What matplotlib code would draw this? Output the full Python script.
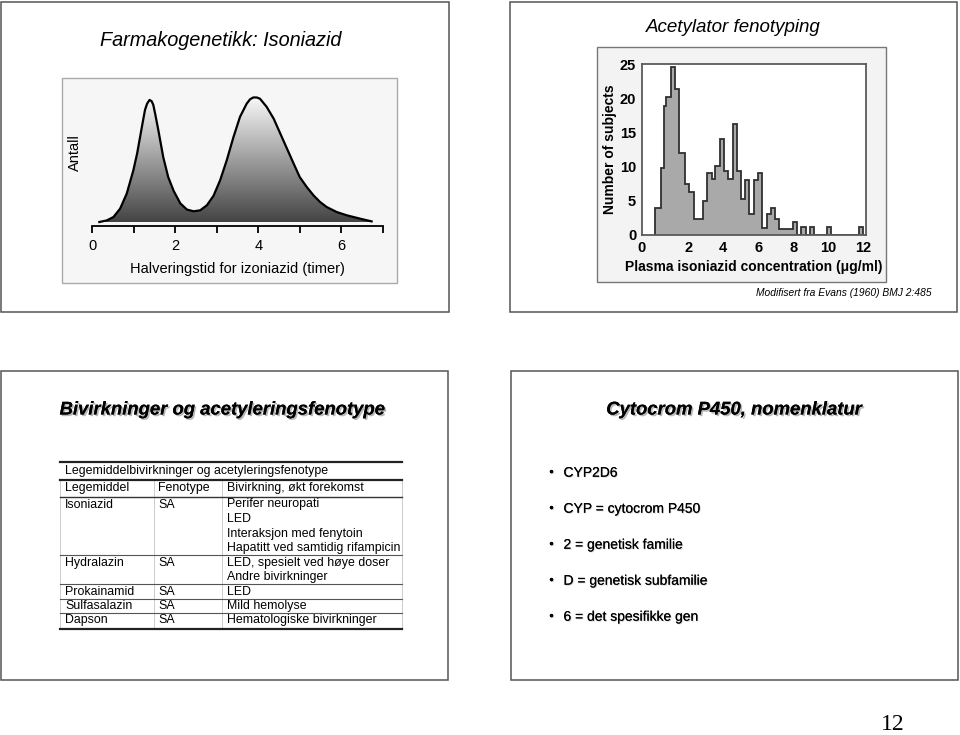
import numpy as np
import matplotlib.pyplot as plt
from matplotlib.patches import Rectangle, Polygon
from matplotlib.lines import Line2D
from matplotlib.colors import LinearSegmentedColormap
import matplotlib.patheffects as pe

plt.rcParams["font.family"] = ["Liberation Sans", "DejaVu Sans"]

W, H = 960, 735

# --- slide 1: half-life curve ---
curve_x = [0.17, 0.35, 0.51, 0.67, 0.83, 0.99, 1.08, 1.15, 1.22, 1.27, 1.32, 1.38, 1.43,
           1.47, 1.52, 1.59, 1.71, 1.83, 1.96, 2.12, 2.28, 2.44, 2.60, 2.76, 2.92, 3.08,
           3.24, 3.40, 3.56, 3.72, 3.80, 3.88, 3.96, 4.04, 4.20, 4.37, 4.53, 4.69, 4.85,
           5.00, 5.17, 5.33, 5.49, 5.65, 5.89, 6.13, 6.45, 6.73]
curve_y = [0, 1.3, 4, 10.7, 22.8, 41.6, 55, 68, 81, 90, 95, 98, 97,
           94, 86, 74, 52, 36, 25, 15, 10, 8.6, 9.4, 13.4, 21, 33.5,
           49.6, 68, 84.5, 95, 98.5, 100, 100, 99, 92.5, 83, 71, 59, 47,
           36, 28, 21.4, 16, 12, 8, 5.4, 2.7, 0.5]
curve_ticks = [0, 1, 2, 3, 4, 5, 6, 7]
curve_ticklabels = ["0", "", "2", "", "4", "", "6", ""]

# --- slide 2: histogram ---
hist_edges = [0.1, 0.43, 0.63, 0.75, 1.0, 1.26, 1.5, 1.85, 2.06, 2.35, 2.86, 3.1, 3.34,
              3.53, 3.79, 4.07, 4.29, 4.53, 4.8, 5.0, 5.24, 5.48, 5.74, 5.96, 6.22, 6.51,
              6.7, 6.95, 7.2, 7.95, 8.22, 8.46, 8.7, 8.95, 9.18, 9.9, 10.16, 11.73, 11.99]
hist_counts = [4, 9.8, 18.9, 20.2, 24.6, 21.4, 12, 7.4, 6.3, 2.4, 4.9, 9, 8.2,
               10.1, 14, 9.3, 8.2, 16.2, 9.3, 5.2, 8, 3.1, 8, 9, 1, 3,
               4, 2.4, 0.9, 1.9, 0, 1.1, 0, 1.1, 0, 1.1, 0, 1.2]
hist_xticks = [0, 2, 4, 6, 8, 10, 12]
hist_yticks = [0, 5, 10, 15, 20, 25]

# --- slide 3: table ---
table_title = "Legemiddelbivirkninger og acetyleringsfenotype"
table_header = ["Legemiddel", "Fenotype", "Bivirkning, økt forekomst"]
table_rows = [
    ["Isoniazid", "SA", ["Perifer neuropati", "LED", "Interaksjon med fenytoin",
                         "Hapatitt ved samtidig rifampicin"]],
    ["Hydralazin", "SA", ["LED, spesielt ved høye doser", "Andre bivirkninger"]],
    ["Prokainamid", "SA", ["LED"]],
    ["Sulfasalazin", "SA", ["Mild hemolyse"]],
    ["Dapson", "SA", ["Hematologiske bivirkninger"]],
]

# --- slide 4: bullets ---
bullets = ["CYP2D6", "CYP = cytocrom P450", "2 = genetisk familie",
           "D = genetisk subfamilie", "6 = det spesifikke gen"]


def fx(x):
    return x / W


def fy(y):
    return 1 - y / H


def box(fig, x0, y0, x1, y1, **kw):
    r = Rectangle((fx(x0), fy(y1)), (x1 - x0) / W, (y1 - y0) / H,
                  transform=fig.transFigure, **kw)
    fig.patches.append(r)


def hline(fig, x0, x1, y, **kw):
    fig.lines.append(Line2D([fx(x0), fx(x1)], [fy(y), fy(y)], transform=fig.transFigure, **kw))


def vline(fig, x, y0, y1, **kw):
    fig.lines.append(Line2D([fx(x), fx(x)], [fy(y0), fy(y1)], transform=fig.transFigure, **kw))


fig = plt.figure(figsize=(9.6, 7.35), dpi=100)
fig.patch.set_facecolor("white")

# slide frames
for x0, y0, x1, y1 in [(1, 2, 449, 312), (510, 2, 957, 312),
                       (1, 371, 448, 680), (511, 371, 958, 680)]:
    box(fig, x0, y0, x1, y1, fill=False, edgecolor="#555555", lw=1.1, zorder=1)

# ---------- slide 1 ----------
fig.text(fx(221), fy(41), "Farmakogenetikk: Isoniazid", ha="center", va="center",
         fontsize=14.3, style="italic")
box(fig, 62, 78, 397, 283, facecolor="#f6f6f6", edgecolor="#aaaaaa", lw=1, zorder=-2)

ax1 = fig.add_axes([fx(92.3), fy(226), (382.8 - 92.3) / W, (226 - 85) / H])
ax1.set_xlim(0, 7)
ax1.set_ylim(-3.2, 110)
ax1.patch.set_alpha(0)
for s in ["left", "right", "top"]:
    ax1.spines[s].set_visible(False)
ax1.spines["bottom"].set_linewidth(1.3)
ax1.set_yticks([])
ax1.set_xticks(curve_ticks, labels=curve_ticklabels)
ax1.tick_params(axis="x", length=5, width=1.3, labelsize=10.5, pad=4)

poly = Polygon(np.column_stack([curve_x + curve_x[::-1], curve_y + [0] * len(curve_y)]),
               closed=True, facecolor="none", edgecolor="none")
ax1.add_patch(poly)
grad_cmap = LinearSegmentedColormap.from_list("g", ["#444444", "#f8f8f8"])
grad = np.linspace(1, 0, 256).reshape(-1, 1)
im = ax1.imshow(grad, extent=[0, 7, 0, 100], aspect="auto", cmap=grad_cmap, origin="upper")
im.set_clip_path(poly)
ax1.plot(curve_x, curve_y, color="black", lw=1.6)
ax1.set_xlabel("Halveringstid for izoniazid (timer)", fontsize=10.5, labelpad=7)
fig.text(fx(75), fy(153), "Antall", rotation=90, ha="center", va="center", fontsize=10.5)

# ---------- slide 2 ----------
fig.text(fx(733), fy(27), "Acetylator fenotyping", ha="center", va="center",
         fontsize=13.5, style="italic")
box(fig, 597, 47, 886, 282, facecolor="#f3f3f3", edgecolor="#777777", lw=1, zorder=-2)

x_lo = -0.644
ax2 = fig.add_axes([fx(641.7), fy(235), (865.7 - 641.7) / W, (235 - 64) / H])
ax2.set_xlim(x_lo, 12.12)
ax2.set_ylim(0, 25)
ax2.stairs(hist_counts, hist_edges, baseline=0, fill=True,
           facecolor="#a9a9a9", edgecolor="#303030", lw=1.3)
for s in ax2.spines.values():
    s.set_color("#5a5a5a")
    s.set_linewidth(1.3)
# the x "0" sits at the axes corner in the original figure
ax2.set_xticks([x_lo] + hist_xticks[1:], labels=[str(v) for v in hist_xticks])
ax2.set_yticks(hist_yticks, labels=[str(v) for v in hist_yticks])
ax2.tick_params(length=0, labelsize=10.5, pad=4)
for lab in ax2.get_xticklabels() + ax2.get_yticklabels():
    lab.set_fontweight("bold")
ax2.set_xlabel("Plasma isoniazid concentration (\u03bcg/ml)", fontsize=10,
               fontweight="bold", labelpad=4)
ax2.set_ylabel("Number of subjects", fontsize=10, fontweight="bold", labelpad=2)
fig.text(fx(932), fy(293), "Modifisert fra Evans (1960) BMJ 2:485", ha="right",
         va="center", fontsize=7.4, style="italic")

# ---------- slide 3 ----------
shadow = [pe.withSimplePatchShadow(offset=(1.2, -1.2), shadow_rgbFace="#888888", alpha=0.6),
          pe.Normal()]
soft = [pe.withSimplePatchShadow(offset=(0.6, -0.6), shadow_rgbFace="#999999", alpha=0.5),
        pe.Normal()]
fig.text(fx(222), fy(410), "Bivirkninger og acetyleringsfenotype", ha="center",
         va="center", fontsize=13.3, fontweight="bold", style="italic", path_effects=shadow)

tx0, tx1 = 60, 402
col_x = [65, 158, 227]
tfs = 8.9
hline(fig, tx0, tx1, 462, color="#222222", lw=1.6)
fig.text(fx(col_x[0]), fy(471), table_title, va="center", fontsize=tfs)
hline(fig, tx0, tx1, 480, color="#222222", lw=1.6)
for cx, t in zip(col_x, table_header):
    fig.text(fx(cx), fy(488.5), t, va="center", fontsize=tfs)
hline(fig, tx0, tx1, 497, color="#333333", lw=1.0)

y = 504.5
row_h = 14.6
for i, (drug, fen, effects) in enumerate(table_rows):
    fig.text(fx(col_x[0]), fy(y), drug, va="center", fontsize=tfs)
    fig.text(fx(col_x[1]), fy(y), fen, va="center", fontsize=tfs)
    for j, eff in enumerate(effects):
        fig.text(fx(col_x[2]), fy(y + j * row_h), eff, va="center", fontsize=tfs)
    y_line = y + len(effects) * row_h - 7.5
    if i < len(table_rows) - 1:
        hline(fig, tx0, tx1, y_line, color="#555555", lw=0.8)
    y = y_line + 7.2
hline(fig, tx0, tx1, 629, color="#222222", lw=1.6)
for vx in [tx0, 153.5, 221.5, tx1]:
    vline(fig, vx, 480, 629, color="#cccccc", lw=0.7, zorder=0)

# ---------- slide 4 ----------
fig.text(fx(734), fy(410), "Cytocrom P450, nomenklatur", ha="center", va="center",
         fontsize=13.3, fontweight="bold", style="italic", path_effects=shadow)
for k, b in enumerate(bullets):
    yy = 472.7 + k * 36
    fig.text(fx(551.5), fy(yy), "\u2022", ha="center", va="center", fontsize=9,
             path_effects=soft)
    fig.text(fx(563.5), fy(yy), b, va="center", fontsize=10, path_effects=soft)

fig.text(fx(893), fy(725), "12", ha="center", va="center", fontsize=17,
         family="Liberation Serif")

fig.savefig("out.png", dpi=100)
